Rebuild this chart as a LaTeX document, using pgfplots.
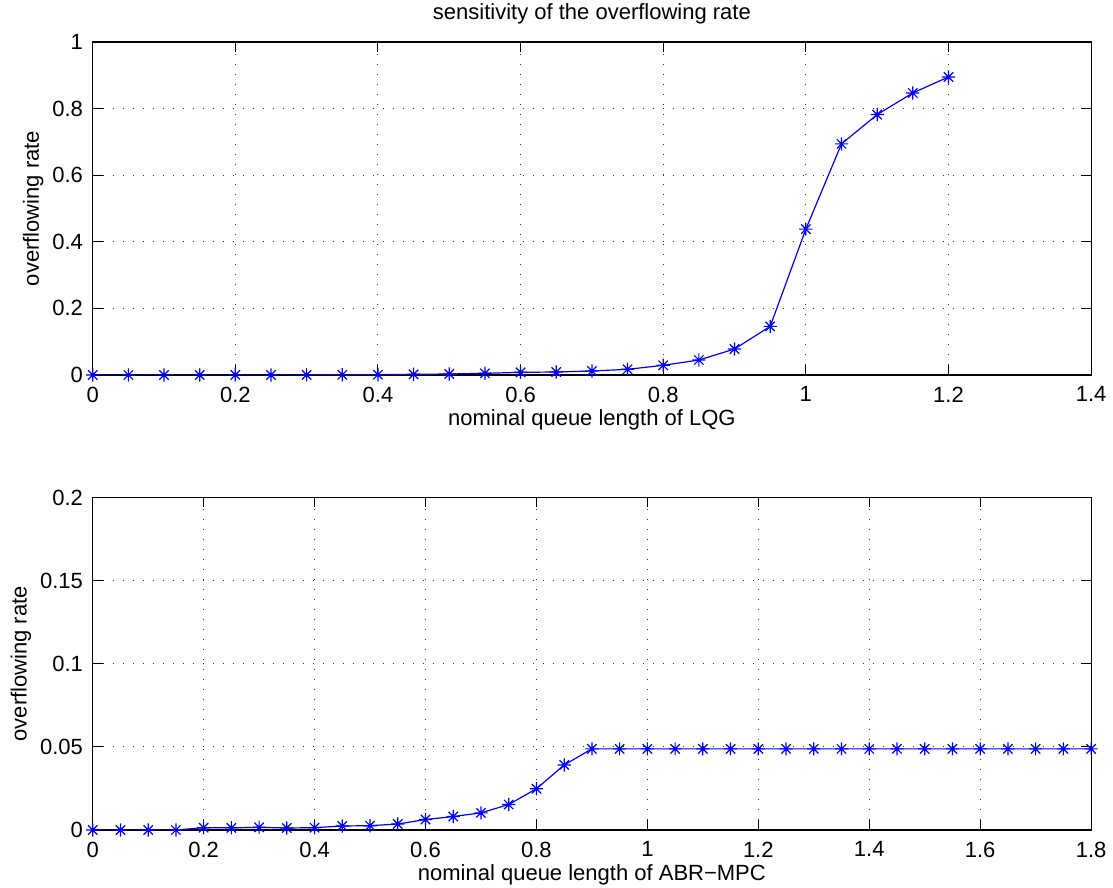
\documentclass[border=0pt]{standalone}
\usepackage{fontspec}
\setmainfont{Liberation Sans}
\usepackage{pgfplots}
\pgfplotsset{compat=1.18}
\pgfdeclareplotmark{mstar}{%
  \pgfpathmoveto{\pgfqpoint{-\pgfplotmarksize}{0pt}}%
  \pgfpathlineto{\pgfqpoint{\pgfplotmarksize}{0pt}}%
  \pgfpathmoveto{\pgfqpoint{0pt}{-\pgfplotmarksize}}%
  \pgfpathlineto{\pgfqpoint{0pt}{\pgfplotmarksize}}%
  \pgfpathmoveto{\pgfqpoint{-0.707\pgfplotmarksize}{-0.707\pgfplotmarksize}}%
  \pgfpathlineto{\pgfqpoint{0.707\pgfplotmarksize}{0.707\pgfplotmarksize}}%
  \pgfpathmoveto{\pgfqpoint{-0.707\pgfplotmarksize}{0.707\pgfplotmarksize}}%
  \pgfpathlineto{\pgfqpoint{0.707\pgfplotmarksize}{-0.707\pgfplotmarksize}}%
  \pgfusepathqstroke}
\pgfplotsset{
  mlab/.style={
    scale only axis,
    width=499.2bp, height=166.5bp,
    axis line style={black, line width=0.6bp},
    tick style={black, line width=0.5bp},
    tick align=inside,
    major tick length=5bp,
    xmajorgrids, ymajorgrids,
    grid style={black!80, line width=0.5bp, dash pattern=on 0.6bp off 4.4bp},
    every tick label/.append style={font=\fontsize{11bp}{13bp}\selectfont},
    label style={font=\fontsize{11bp}{13bp}\selectfont},
    title style={font=\fontsize{11bp}{13bp}\selectfont},
    /pgf/number format/assume math mode=true,
    scaled ticks=false,
    xticklabel style={yshift=-2bp},
    yticklabel style={xshift=-1bp},
    xlabel style={yshift=4bp},
    ylabel style={yshift=-3bp},
  },
  mline/.style={color={rgb,255:red,0;green,0;blue,255}, line width=0.6bp, mark=mstar, mark size=3.3bp, mark options={line width=0.6bp}},
}
\pgfplotstableread{
x y
0 0
0.05 0
0.1 0
0.15 0
0.2 0.0005
0.25 0
0.3 0.0005
0.35 0.0005
0.4 0.001
0.45 0.002
0.5 0.003
0.55 0.005
0.6 0.008
0.65 0.009
0.7 0.012
0.75 0.017
0.8 0.029
0.85 0.045
0.9 0.078
0.95 0.146
1.0 0.438
1.05 0.694
1.1 0.782
1.15 0.847
1.2 0.895
}\lqg
\pgfplotstableread{
x y
0 0
0.05 0
0.1 0
0.15 0
0.2 0.0014
0.25 0.0013
0.3 0.0016
0.35 0.0012
0.4 0.0014
0.45 0.0024
0.5 0.0026
0.55 0.0036
0.6 0.0063
0.65 0.0081
0.7 0.0103
0.75 0.0153
0.8 0.0248
0.85 0.0391
0.9 0.0488
0.95 0.0488
1.0 0.0488
1.05 0.0488
1.1 0.0488
1.15 0.0488
1.2 0.0488
1.25 0.0488
1.3 0.0488
1.35 0.0488
1.4 0.0488
1.45 0.0488
1.5 0.0488
1.55 0.0488
1.6 0.0488
1.65 0.0488
1.7 0.0488
1.75 0.0488
1.8 0.0488
}\abr
\begin{document}
\fontsize{11bp}{13bp}\selectfont
\begin{tikzpicture}
\useasboundingbox (0bp,0bp) rectangle (556.5bp,444bp);
\begin{axis}[mlab,
  at={(46.35bp,256.5bp)}, anchor=south west,
  xmin=0, xmax=1.4, ymin=0, ymax=1,
  xtick={0,0.2,0.4,0.6,0.8,1,1.2,1.4},
  xticklabels={0,0.2,0.4,0.6,0.8,1,1.2,1.4},
  ytick={0,0.2,0.4,0.6,0.8,1},
  yticklabels={0,0.2,0.4,0.6,0.8,1},
  xlabel={nominal queue length of LQG},
  ylabel={overflowing rate},
  title={sensitivity of the overflowing rate},
  title style={yshift=-1bp},
]
\addplot[mline] table[x=x,y=y]{\lqg};
\end{axis}
\begin{axis}[mlab,
  at={(46.35bp,29bp)}, anchor=south west,
  height=166.25bp,
  xmin=0, xmax=1.8, ymin=0, ymax=0.2,
  xtick={0,0.2,0.4,0.6,0.8,1,1.2,1.4,1.6,1.8},
  xticklabels={0,0.2,0.4,0.6,0.8,1,1.2,1.4,1.6,1.8},
  ytick={0,0.05,0.1,0.15,0.2},
  yticklabels={0,0.05,0.1,0.15,0.2},
  xlabel={nominal queue length of ABR−MPC},
  ylabel={overflowing rate},
]
\addplot[mline] table[x=x,y=y]{\abr};
\end{axis}
\end{tikzpicture}
\end{document}
